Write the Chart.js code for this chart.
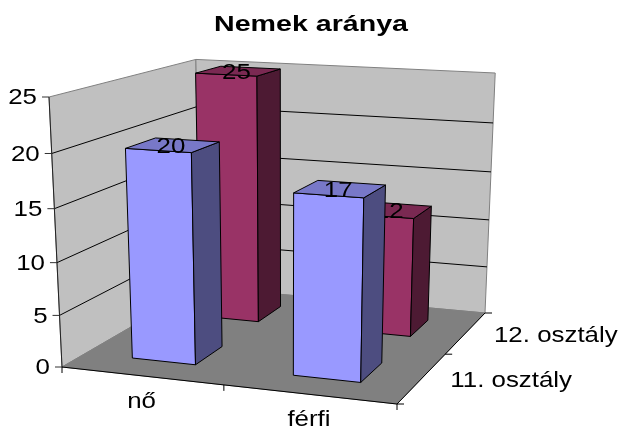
<!DOCTYPE html>
<html>
<head>
<meta charset="utf-8">
<script src="https://cdn.jsdelivr.net/npm/chart.js@4"></script>
<style>
html, body { margin: 0; padding: 0; background: #fff; overflow: hidden; }
#wrap { width: 621px; height: 426px; }
</style>
</head>
<body>
<div id="wrap"><canvas id="chart" width="621" height="426"></canvas></div>
<script>
const categories = ['nő', 'férfi'];
const seriesNames = ['11. osztály', '12. osztály'];
const grade11 = [20, 17];
const grade12 = [25, 12];
const yTicksMax = 25;
const yTicksStep = 5;

// colours: front, top, side
const grade11Colors = ['#9999ff', '#7878c8', '#4d4d80'];
const grade12Colors = ['#993366', '#7a2952', '#4d1a33'];

// where the box corners land on the canvas (floor origin, right, back, top)
const origin = [62, 367];
const rightEnd = [397, 404];
const backEnd = [200, 287];
const topEnd = [49, 97];
// perspective falloff per axis
const persp = [-0.065, 0.1955, -0.055];

const TEXT_STRETCH = 1.15;
const FONT_SIZE = 22.5;
const FONT = '"Liberation Sans", Arial, sans-serif';

// u along categories, v into depth, w up the value axis, all 0..1
function project(u, v, w) {
    const den = 1 + persp[0] * u + persp[1] * v + persp[2] * w;
    const p = [0, 1].map(k =>
        origin[k]
        + u * ((1 + persp[0]) * rightEnd[k] - origin[k])
        + v * ((1 + persp[1]) * backEnd[k] - origin[k])
        + w * ((1 + persp[2]) * topEnd[k] - origin[k])
    );
    return [p[0] / den, p[1] / den];
}

function poly(ctx, pts, fill, stroke) {
    ctx.beginPath();
    pts.forEach((p, i) => i ? ctx.lineTo(p[0], p[1]) : ctx.moveTo(p[0], p[1]));
    ctx.closePath();
    if (fill) { ctx.fillStyle = fill; ctx.fill(); }
    if (stroke) { ctx.strokeStyle = stroke; ctx.lineWidth = 1; ctx.stroke(); }
}

function line(ctx, a, b, color, width) {
    ctx.beginPath();
    ctx.moveTo(a[0], a[1]);
    ctx.lineTo(b[0], b[1]);
    ctx.strokeStyle = color;
    ctx.lineWidth = width || 1;
    ctx.stroke();
}

// Arial in the original picture is stretched sideways
function label(ctx, text, x, y, size, align, bold, stretch) {
    ctx.save();
    ctx.translate(x, y);
    ctx.scale(stretch || TEXT_STRETCH, 1);
    ctx.font = (bold ? 'bold ' : '') + size + 'px ' + FONT;
    ctx.textAlign = align;
    ctx.textBaseline = 'middle';
    ctx.fillStyle = '#000';
    ctx.fillText(text, 0, 0);
    ctx.restore();
}

const box3d = {
    id: 'box3d',
    afterDatasetsDraw(chart) {
        const ctx = chart.ctx;
        const area = chart.chartArea;
        const xs = chart.scales.x;
        const ys = chart.scales.y;
        const ds = chart.scales.depth;
        const toU = px => (px - area.left) / area.width;
        const toW = px => (area.bottom - px) / area.height;
        const toV = px => (px - area.left) / area.width;

        // walls and floor
        poly(ctx, [project(0, 0, 0), project(0, 1, 0), project(0, 1, 1), project(0, 0, 1)], '#c0c0c0', '#808080');
        poly(ctx, [project(0, 1, 0), project(1, 1, 0), project(1, 1, 1), project(0, 1, 1)], '#c0c0c0', '#808080');
        poly(ctx, [project(0, 0, 0), project(1, 0, 0), project(1, 1, 0), project(0, 1, 0)], '#808080', '#808080');

        // gridlines and value axis
        ys.ticks.forEach(t => {
            const w = toW(ys.getPixelForValue(t.value));
            if (w > 0 && w < 1) {
                line(ctx, project(0, 0, w), project(0, 1, w), '#000');
                line(ctx, project(0, 1, w), project(1, 1, w), '#000');
            }
            const p = project(0, 0, w);
            line(ctx, [p[0] - 7, p[1]], p, '#333');
            label(ctx, t.label, p[0] - 12, p[1] + 1, FONT_SIZE, 'right', false);
        });
        line(ctx, project(0, 0, 0), project(0, 0, 1), '#222');

        // floor axes
        line(ctx, project(0, 0, 0), project(1, 0, 0), '#000');
        line(ctx, project(1, 0, 0), project(1, 1, 0), '#000');
        [0, 0.5, 1].forEach(u => {
            const p = project(u, 0, 0);
            line(ctx, p, [p[0], p[1] + 6], '#000');
        });
        [0, 0.5, 1].forEach(v => {
            const p = project(1, v, 0);
            line(ctx, p, [p[0] + 7, p[1]], '#000');
        });
        xs.ticks.forEach((t, i) => {
            const p = project(toU(xs.getPixelForTick(i)), 0, 0);
            label(ctx, t.label, p[0], p[1] + 26, FONT_SIZE, 'center', false);
        });
        ds.ticks.forEach((t, i) => {
            const p = project(1, toV(ds.getPixelForTick(i)), 0);
            label(ctx, t.label, p[0] + 28, p[1] + 3, FONT_SIZE, 'left', false);
        });

        // bars back to front, every label straight after its own bar
        const order = [1, 0];
        const colors = [grade11Colors, grade12Colors];
        order.forEach(di => {
            const meta = chart.getDatasetMeta(di);
            const dv = 0.4 * (toV(ds.getPixelForTick(1)) - toV(ds.getPixelForTick(0))) / 2;
            const vc = toV(ds.getPixelForTick(di));
            const v0 = vc - dv, v1 = vc + dv;
            meta.data.forEach((el, i) => {
                const u0 = toU(el.x - el.width / 2);
                const u1 = toU(el.x + el.width / 2);
                const w = toW(el.y);
                const c = colors[di];
                poly(ctx, [project(u0, v0, 0), project(u1, v0, 0), project(u1, v0, w), project(u0, v0, w)], c[0], '#000');
                poly(ctx, [project(u1, v0, 0), project(u1, v1, 0), project(u1, v1, w), project(u1, v0, w)], c[2], '#000');
                poly(ctx, [project(u0, v0, w), project(u1, v0, w), project(u1, v1, w), project(u0, v1, w)], c[1], '#000');
                const p = project((u0 + u1) / 2, vc, w);
                label(ctx, String(chart.data.datasets[di].data[i]), p[0] - 2, p[1] + 2, FONT_SIZE, 'center', false);
            });
        });

        label(ctx, 'Nemek aránya', 311, 25, 22, 'center', true, 1.3);
    }
};

new Chart(document.getElementById('chart'), {
    type: 'bar',
    data: {
        labels: categories,
        datasets: [
            { label: seriesNames[0], data: grade11, backgroundColor: 'transparent', borderWidth: 0 },
            { label: seriesNames[1], data: grade12, backgroundColor: 'transparent', borderWidth: 0 }
        ]
    },
    options: {
        responsive: false,
        animation: false,
        datasets: { bar: { grouped: false, categoryPercentage: 0.4, barPercentage: 1 } },
        plugins: { legend: { display: false }, title: { display: false }, tooltip: { enabled: false } },
        scales: {
            x: { display: false, offset: true },
            depth: { type: 'category', axis: 'x', labels: seriesNames, display: false, offset: true },
            y: { display: false, min: 0, max: yTicksMax, ticks: { stepSize: yTicksStep } }
        }
    },
    plugins: [box3d]
});
</script>
</body>
</html>
